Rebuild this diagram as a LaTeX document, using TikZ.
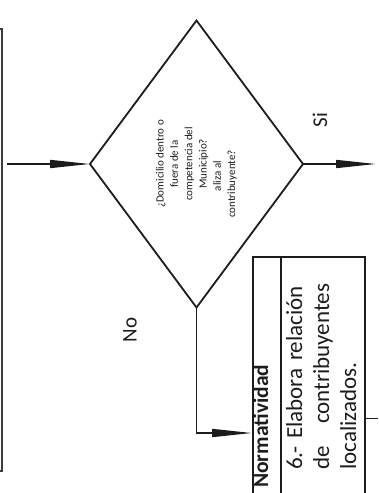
\documentclass[tikz,border=0pt]{standalone}
\usepackage{fontspec}
\setmainfont{Carlito}
\usetikzlibrary{arrows.meta,shapes.geometric,positioning}
\definecolor{InkColor}{RGB}{28,28,28}
\definecolor{FrameGray}{RGB}{60,60,60}

\begin{document}
\begin{tikzpicture}[x=1pt,y=-1pt,
    flowline/.style={line width=1.6pt, InkColor},
    flowarrow/.style={flowline, -{Triangle[length=40pt,width=8pt]}},
    decision/.style={diamond, draw, line width=1.8pt, InkColor, inner sep=0pt, outer sep=0pt, minimum width=213pt, minimum height=287pt},
    cell/.style={draw, line width=1.6pt, InkColor, inner sep=0pt, outer sep=0pt, minimum height=260pt, anchor=north west},
    sidelabel/.style={rotate=90, inner sep=0pt, InkColor, font=\fontsize{21}{24}\selectfont}]
  \useasboundingbox (0,0) rectangle (378,493);
  \clip (0,0) rectangle (378,493);
  % frame of the previous step, cut by the page
  \draw[line width=2.5pt, FrameGray] (-10,29) rectangle (2,471);
  \node[decision] (dec) at (196.5,164) {};
  \node[rotate=90, align=center, inner sep=0pt, InkColor, font=\fontsize{11}{14.3}\selectfont] (dectext) at (dec.center)
    {¿Domicilio dentro o\\fuera de la\\competencia del\\Municipio?\\aliza al\rule{24pt}{0pt}\\contribuyente?\rule{40pt}{0pt}};
  \coordinate (instart) at (7,164);
  \draw[flowarrow] (instart) -- (dec.west);
  \coordinate (outend) at (376,164);
  \draw[flowarrow] (dec.east) -- (outend);
  \node[sidelabel] (silbl) at (320,120) {Si};
  \node[sidelabel] (nolbl) at (130,330) {No};
  % table with the next step
  \node[cell, minimum width=28pt] (colA) at (253,257) {};
  \node[cell, minimum width=84pt] (colB) at (colA.north east) {};
  \node[rotate=90, anchor=base west, inner sep=0pt, InkColor, font=\bfseries\fontsize{21.5}{26}\selectfont] (normtxt) at (268,488) {Normatividad};
  \node[rotate=90, anchor=north west, inner sep=0pt, text width=186pt, align=left, InkColor, font=\fontsize{23}{27}\selectfont] (steptxt) at (286,470)
    {6.- Elabora relación\\de\hfill contribuyentes\\localizados.};
  \coordinate (noend) at (252,433);
  \draw[flowarrow] (dec.south) |- (noend);
  \coordinate (stubend) at (378,418);
  \draw[flowline, line width=1pt] (colB.east |- stubend) -- (stubend);
\end{tikzpicture}
\end{document}
